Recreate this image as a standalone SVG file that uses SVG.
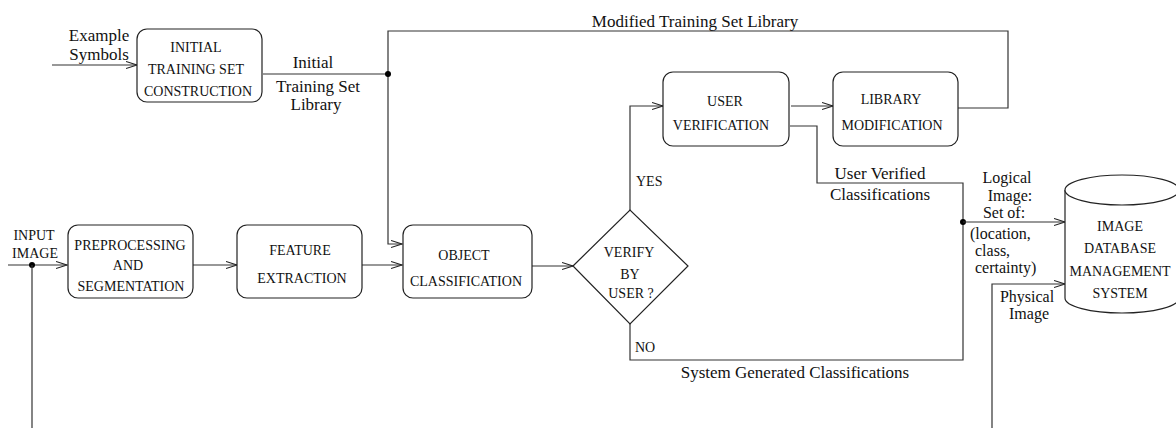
<svg xmlns="http://www.w3.org/2000/svg" width="1176" height="428" viewBox="0 0 1176 428">
<defs>
<marker id="arr" markerUnits="userSpaceOnUse" markerWidth="14" markerHeight="10" refX="11" refY="4" orient="auto">
<path d="M0,0.5 L11,4 L0,7.5" fill="none" stroke="#222" stroke-width="1.1"/>
</marker>
<style>
.box{fill:#fff;stroke:#222;stroke-width:1.2}
.ln{fill:none;stroke:#333;stroke-width:1.2}
.bt{font-family:"Liberation Serif","Times New Roman",serif;font-size:14px;fill:#111;text-anchor:middle}
.lb{font-family:"Liberation Serif","Times New Roman",serif;font-size:17px;fill:#111;text-anchor:middle}
.ls{font-family:"Liberation Serif","Times New Roman",serif;font-size:16px;fill:#111}
.lm{font-family:"Liberation Serif","Times New Roman",serif;font-size:16px;fill:#111;text-anchor:middle}
</style>
</defs>
<rect width="1176" height="428" fill="#fff"/>

<g id="connectors">
<path class="ln" d="M52,65 L137,65" marker-end="url(#arr)"/>
<path class="ln" d="M263,74 L388,74"/>
<path class="ln" d="M958,108 L1008,108 L1008,31 L388,31 L388,244 L402,244" marker-end="url(#arr)"/>
<circle cx="388" cy="74" r="3" fill="#000"/>
<path class="ln" d="M8,265 L67,265" marker-end="url(#arr)"/>
<circle cx="32" cy="265" r="3" fill="#000"/>
<path class="ln" d="M32,265 L32,428"/>
<path class="ln" d="M193,265 L237,265" marker-end="url(#arr)"/>
<path class="ln" d="M362,265 L402,265" marker-end="url(#arr)"/>
<path class="ln" d="M532,266 L573,266" marker-end="url(#arr)"/>
<path class="ln" d="M630,210 L630,106 L663,106" marker-end="url(#arr)"/>
<path class="ln" d="M791,106 L833,106" marker-end="url(#arr)"/>
<path class="ln" d="M790,126 L817,126 L817,183 L963,183 L963,360 L630,360 L630,324"/>
<circle cx="963" cy="222" r="3" fill="#000"/>
<path class="ln" d="M963,222 L1065,222" marker-end="url(#arr)"/>
<path class="ln" d="M992,428 L992,284 L1065,284" marker-end="url(#arr)"/>
</g>

<g id="labels">
<text class="lb" x="99" y="41">Example</text>
<text class="lb" x="99" y="60">Symbols</text>
<text class="lb" x="313" y="68">Initial</text>
<text class="lb" x="318" y="92">Training Set</text>
<text class="lb" x="316" y="110">Library</text>
<text class="lb" x="695" y="27">Modified Training Set Library</text>
<text class="bt" x="34" y="240">INPUT</text>
<text class="bt" x="35" y="258">IMAGE</text>
<text class="ls" x="636" y="186" style="font-size:14px">YES</text>
<text class="ls" x="635" y="352" style="font-size:14px">NO</text>
<text class="lb" x="880" y="179">User Verified</text>
<text class="lb" x="880" y="200">Classifications</text>
<text class="lb" x="795" y="378">System Generated Classifications</text>
<text class="lm" x="1007" y="183">Logical</text>
<text class="lm" x="1010" y="201">Image:</text>
<text class="lm" x="1004" y="218">Set of:</text>
<text class="ls" x="970" y="239">(location,</text>
<text class="ls" x="975" y="256">class,</text>
<text class="ls" x="975" y="273">certainty)</text>
<text class="lm" x="1027" y="302">Physical</text>
<text class="lm" x="1029" y="319">Image</text>
</g>

<g id="initial-training">
<rect class="box" x="137" y="29" width="125" height="73" rx="10"/>
<text class="bt" x="196" y="52">INITIAL</text>
<text class="bt" x="196" y="74">TRAINING SET</text>
<text class="bt" x="198" y="96">CONSTRUCTION</text>
</g>

<g id="preprocessing">
<rect class="box" x="68" y="225" width="125" height="73" rx="10"/>
<text class="bt" x="130" y="250">PREPROCESSING</text>
<text class="bt" x="128" y="270">AND</text>
<text class="bt" x="131" y="291">SEGMENTATION</text>
</g>

<g id="feature-extraction">
<rect class="box" x="237" y="225" width="125" height="73" rx="10"/>
<text class="bt" x="300" y="255">FEATURE</text>
<text class="bt" x="302" y="283">EXTRACTION</text>
</g>

<g id="object-classification">
<rect class="box" x="403" y="225" width="129" height="73" rx="10"/>
<text class="bt" x="464" y="260">OBJECT</text>
<text class="bt" x="466" y="286">CLASSIFICATION</text>
</g>

<g id="verify">
<path class="box" d="M573,266 L630,210 L688,266 L630,324 Z"/>
<text class="bt" x="629" y="257">VERIFY</text>
<text class="bt" x="630" y="279">BY</text>
<text class="bt" x="631" y="298">USER ?</text>
</g>

<g id="user-verification">
<rect class="box" x="663" y="72" width="126" height="74" rx="10"/>
<text class="bt" x="725" y="106">USER</text>
<text class="bt" x="721" y="130">VERIFICATION</text>
</g>

<g id="library-modification">
<rect class="box" x="833" y="72" width="125" height="74" rx="10"/>
<text class="bt" x="891" y="104">LIBRARY</text>
<text class="bt" x="892" y="130">MODIFICATION</text>
</g>

<g id="image-dbms">
<path class="box" d="M1065,190 L1065,298 A57,15 0 0 0 1179,298 L1179,190"/>
<ellipse class="box" cx="1122" cy="190" rx="57" ry="15"/>
<text class="bt" x="1120" y="231">IMAGE</text>
<text class="bt" x="1120" y="253">DATABASE</text>
<text class="bt" x="1120" y="276">MANAGEMENT</text>
<text class="bt" x="1120" y="298">SYSTEM</text>
</g>
</svg>
